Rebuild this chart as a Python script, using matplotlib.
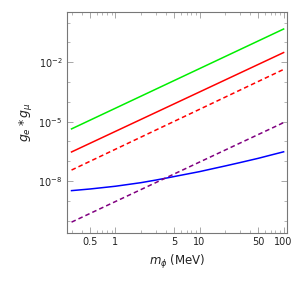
import matplotlib
matplotlib.use("Agg")
import matplotlib.pyplot as plt
from matplotlib.ticker import FixedLocator, NullFormatter

# couplings (m_phi in MeV)
m_ends = [0.3, 100]
green_vals = [4.3e-6, 0.47]
red_vals = [2.95e-7, 0.0305]
red_dash_vals = [3.6e-8, 0.0043]
purple_vals = [8.5e-11, 8.9e-6]

m_blue = [0.3, 0.5, 1, 2, 3, 4, 5, 7, 10, 15, 20, 30, 50, 70, 100]
blue_vals = [3.3e-9, 4.0e-9, 5.5e-9, 8.3e-9, 1.12e-8, 1.41e-8, 1.7e-8, 2.24e-8,
             3.0e-8, 4.4e-8, 5.75e-8, 8.5e-8, 1.41e-7, 2.04e-7, 3.0e-7]

x_ticks = [0.5, 1, 5, 10, 50, 100]
x_ticklabels = ["0.5", "1", "5", "10", "50", "100"]
y_ticks = [1e-2, 1e-5, 1e-8]
y_ticklabels = [r"$10^{-2}$", r"$10^{-5}$", r"$10^{-8}$"]

fig = plt.figure(figsize=(3.0, 2.92), dpi=100)
ax = fig.add_axes([0.222, 0.202, 0.735, 0.757])

lw = 1.1
ax.plot(m_ends, green_vals, color="#00ee00", lw=lw)
ax.plot(m_ends, red_vals, color="#ff0000", lw=lw)
ax.plot(m_ends, red_dash_vals, color="#ff0000", lw=lw, dashes=(3, 2))
ax.plot(m_blue, blue_vals, color="#0000ff", lw=lw)
ax.plot(m_ends, purple_vals, color="#800080", lw=lw, dashes=(3, 2))

ax.set_xscale("log")
ax.set_yscale("log")
ax.set_xlim(0.262, 110)
ax.set_ylim(2.4e-11, 3.4)

ax.xaxis.set_major_locator(FixedLocator(x_ticks))
ax.set_xticklabels(x_ticklabels)
minor_x = [0.3, 0.4, 0.6, 0.7, 0.8, 0.9, 2, 3, 4, 6, 7, 8, 9, 20, 30, 40, 60, 70, 80, 90]
ax.xaxis.set_minor_locator(FixedLocator(minor_x))
ax.xaxis.set_minor_formatter(NullFormatter())

ax.yaxis.set_major_locator(FixedLocator(y_ticks))
ax.set_yticklabels(y_ticklabels)
minor_y = [10.0 ** k for k in range(-10, 1) if k not in (-2, -5, -8)]
ax.yaxis.set_minor_locator(FixedLocator(minor_y))
ax.yaxis.set_minor_formatter(NullFormatter())

frame = "#777777"
for s in ax.spines.values():
    s.set_color(frame)
    s.set_linewidth(0.8)
ax.tick_params(which="both", direction="in", top=True, right=True, color="#999999",
               labelsize=7, labelcolor="#222222", pad=3)
ax.tick_params(which="major", length=4, width=0.6)
ax.tick_params(which="minor", length=2, width=0.5)

ax.set_xlabel(r"$m_\phi$ (MeV)", fontsize=8.5, color="#222222", labelpad=4)
ax.set_ylabel(r"$g_e * g_\mu$", fontsize=9, color="#222222", labelpad=3)

fig.savefig("out.png", dpi=100)
